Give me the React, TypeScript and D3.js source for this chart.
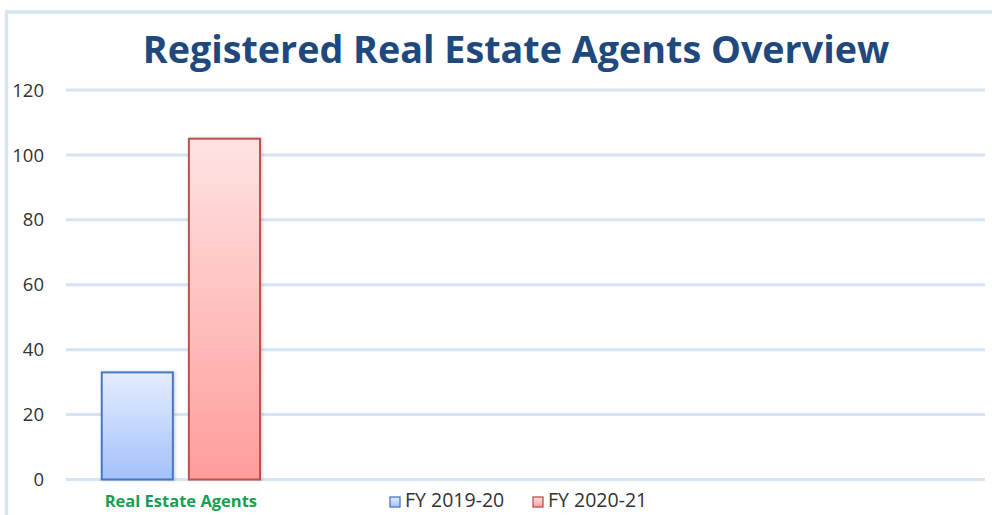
import React from "react";
import * as d3 from "d3";

const categories = ["Real Estate Agents", "", "", ""];
const seriesNames = ["FY 2019-20", "FY 2020-21"];
const fy201920 = [33, null, null, null];
const fy202021 = [105, null, null, null];
const yTicks = [0, 20, 40, 60, 80, 100, 120];

const W = 992;
const H = 515;
const margin = { left: 66, right: 7, top: 90, bottom: 35.5 };

const palette = [
  { top: "#e4edfd", bottom: "#a4c1fb", stroke: "#4a78c0" },
  { top: "#ffe3e3", bottom: "#ff9d9b", stroke: "#c0504d" },
];

export default function App() {
  const x0 = d3
    .scaleBand<string>()
    .domain(categories.map((c, i) => String(i)))
    .range([margin.left, W - margin.right])
    .paddingInner(0)
    .paddingOuter(0);
  const y = d3
    .scaleLinear()
    .domain([0, 120])
    .range([H - margin.bottom, margin.top]);
  const x1 = d3
    .scaleBand<string>()
    .domain(seriesNames)
    .range([0, x0.bandwidth()])
    .paddingInner(0.184)
    .paddingOuter(0.41);

  const series = [fy201920, fy202021];

  return (
    <svg
      width={W}
      height={H}
      style={{ position: "absolute", left: 0, top: 0, background: "#fff" }}
      fontFamily="'Open Sans', sans-serif"
    >
      <defs>
        {palette.map((p, i) => (
          <linearGradient key={i} id={`g${i}`} x1="0" y1="0" x2="0" y2="1">
            <stop offset="0%" stopColor={p.top} />
            <stop offset="100%" stopColor={p.bottom} />
          </linearGradient>
        ))}
        <filter id="shadow" x="-20%" y="-5%" width="140%" height="110%">
          <feDropShadow dx="1.5" dy="0" stdDeviation="1.5" floodColor="#000" floodOpacity="0.18" />
        </filter>
      </defs>
      <rect x={6.5} y={12} width={1100} height={600} fill="none" stroke="#d6e4f4" strokeWidth={3.5} />
      <text
        x={516}
        y={63}
        textAnchor="middle"
        fontSize={37.7}
        fontWeight="bold"
        fill="#1f497d"
      >
        Registered Real Estate Agents Overview
      </text>
      {yTicks.map((t) => (
        <g key={t}>
          <line
            x1={margin.left}
            x2={985}
            y1={y(t)}
            y2={y(t)}
            stroke="#d6e4f4"
            strokeWidth={3}
          />
          <text
            x={44}
            y={y(t)}
            dy="0.36em"
            textAnchor="end"
            fontSize={18.5}
            fill="#333"
          >
            {t}
          </text>
        </g>
      ))}
      {categories.map((c, ci) => (
        <g key={ci} transform={`translate(${x0(String(ci))},0)`}>
          {series.map((s, si) => {
            const v = s[ci];
            if (v == null) return null;
            return (
              <rect
                key={si}
                x={x1(seriesNames[si])}
                y={y(v)}
                width={x1.bandwidth()}
                height={y(0) - y(v)}
                fill={`url(#g${si})`}
                stroke={palette[si].stroke}
                strokeWidth={2}
                filter="url(#shadow)"
              />
            );
          })}
          {c && (
            <text
              x={x0.bandwidth() / 2}
              y={507}
              textAnchor="middle"
              fontSize={16.5}
              fontWeight="bold"
              fill="#14a050"
            >
              {c}
            </text>
          )}
        </g>
      ))}
      {seriesNames.map((n, i) => {
        const lx = 390 + i * 143;
        return (
          <g key={n}>
            <rect
              x={lx}
              y={497}
              width={10}
              height={10}
              fill={`url(#g${i})`}
              stroke={palette[i].stroke}
              strokeWidth={1.3}
            />
            <text x={lx + 15} y={507} fontSize={19.5} fill="#333">
              {n}
            </text>
          </g>
        );
      })}
    </svg>
  );
}
